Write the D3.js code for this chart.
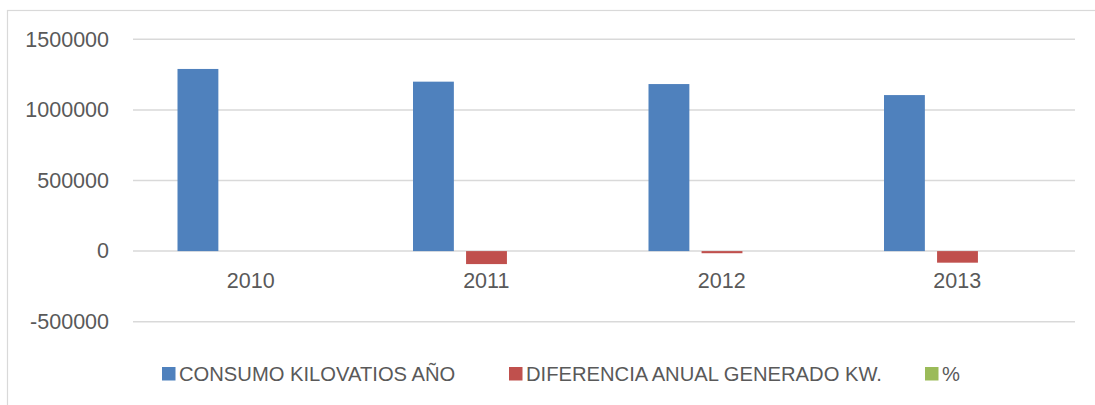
<!DOCTYPE html>
<meta charset="utf-8">
<style>
body { margin: 0; background: #fff; }
svg { font-family: "Liberation Sans", Arial, sans-serif; }
.grid line { stroke: #d9d9d9; stroke-width: 1.5; }
.axis text { fill: #595959; font-size: 21.5px; }
.legend text { fill: #595959; font-size: 20.2px; }
</style>
<body>
<script src="https://cdn.jsdelivr.net/npm/d3@7"></script>
<script>
// data
var years = ["2010", "2011", "2012", "2013"];
var seriesNames = ["CONSUMO KILOVATIOS AÑO", "DIFERENCIA ANUAL GENERADO KW.", "%"];
var consumo = [1290000, 1200000, 1183000, 1105000];
var diferencia = [0, -92000, -15000, -82000];
var porcentaje = [0, -7.0, -1.4, -6.6];
var yTicks = [-500000, 0, 500000, 1000000, 1500000];
var colors = ["#4f81bd", "#c0504d", "#9bbb59"];

var allSeries = [consumo, diferencia, porcentaje];

var W = 1095, H = 405;
var plot = {left: 133, right: 1075, top: 39.3, bottom: 321.7};

var svg = d3.select("body").append("svg")
    .attr("width", W)
    .attr("height", H);

// chart frame
svg.append("rect")
    .attr("x", 7.5).attr("y", 10.5)
    .attr("width", 1100).attr("height", 420)
    .attr("fill", "#fff")
    .attr("stroke", "#d9d9d9")
    .attr("stroke-width", 1.2);

var y = d3.scaleLinear()
    .domain([-500000, 1500000])
    .range([plot.bottom, plot.top]);

var x0 = d3.scaleBand()
    .domain(years)
    .range([plot.left, plot.right])
    .padding(0);

var step = x0.bandwidth();
var x1 = d3.scaleBand()
    .domain(d3.range(seriesNames.length))
    .range([44.5, step - 44])
    .paddingInner(0.23);

// gridlines
svg.append("g").attr("class", "grid")
  .selectAll("line")
  .data(yTicks)
  .enter().append("line")
    .attr("x1", plot.left).attr("x2", plot.right)
    .attr("y1", function(d) { return y(d); })
    .attr("y2", function(d) { return y(d); });

// y axis labels (plain hyphen for negatives, like Excel)
var yAxis = svg.append("g")
    .attr("class", "axis")
    .attr("transform", "translate(" + plot.left + ",0)")
    .call(d3.axisLeft(y).tickValues(yTicks).tickSize(0).tickPadding(24)
      .tickFormat(function(d) { return String(d); }));
yAxis.select(".domain").remove();
yAxis.selectAll("text").attr("font-family", null).attr("font-size", null);

// bars
var groups = svg.append("g").selectAll("g")
    .data(years)
  .enter().append("g")
    .attr("transform", function(d) { return "translate(" + x0(d) + ",0)"; });

groups.selectAll("rect")
    .data(function(d, i) { return allSeries.map(function(s, k) { return {k: k, v: s[i]}; }); })
  .enter().append("rect")
    .attr("x", function(d) { return x1(d.k); })
    .attr("width", x1.bandwidth())
    .attr("y", function(d) { return y(Math.max(0, d.v)); })
    .attr("height", function(d) { return Math.abs(y(d.v) - y(0)); })
    .attr("fill", function(d) { return colors[d.k]; });

// category axis at zero
var xAxis = svg.append("g")
    .attr("class", "axis")
    .attr("transform", "translate(0," + y(0) + ")")
    .call(d3.axisBottom(x0).tickSize(0).tickPadding(22));
xAxis.select(".domain").remove();
xAxis.selectAll("text").attr("font-family", null).attr("font-size", null);

// legend
var legendX = [162, 509, 925];
var legend = svg.append("g").attr("class", "legend")
  .selectAll("g")
    .data(seriesNames)
  .enter().append("g")
    .attr("transform", function(d, i) { return "translate(" + legendX[i] + ",367)"; });

legend.append("rect")
    .attr("width", 13.5).attr("height", 13.5)
    .attr("fill", function(d, i) { return colors[i]; });

legend.append("text")
    .attr("x", 17)
    .attr("y", 14)
    .text(function(d) { return d; });
</script>
</body>
